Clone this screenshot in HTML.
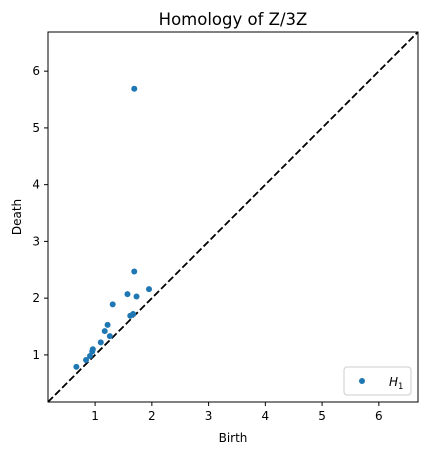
<!DOCTYPE html>
<html><head><meta charset="utf-8"><style>
body{margin:0;background:#fff;font-family:"Liberation Sans","DejaVu Sans",sans-serif;}
svg text{font-family:"DejaVu Sans","Liberation Sans",sans-serif;}
</style></head><body>
<svg id="chart" width="431" height="455" xmlns="http://www.w3.org/2000/svg">
<text x="233" y="25" font-size="16.5" text-anchor="middle" fill="#000">Homology of Z/3Z</text>
<g id="plot"></g>
<rect x="48" y="32" width="370" height="370" fill="none" stroke="#000" stroke-width="1"/>
<text x="233" y="442" font-size="12" text-anchor="middle">Birth</text>
<text x="0" y="0" font-size="12" text-anchor="middle" transform="translate(21,217) rotate(-90)">Death</text>
<g>
<rect x="344" y="367" width="67" height="28" rx="3" fill="#fff" stroke="#ccc"/>
<circle cx="362" cy="381" r="3" fill="#1f77b4"/>
<text x="389" y="386" font-size="12" font-style="italic">H<tspan font-size="8.5" dy="3" font-style="normal">1</tspan></text>
</g>
</svg>
<script>
const births=[1.69,1.69,1.57,1.73,1.95,1.31,1.62,1.67,1.22,1.17,1.26,1.10,0.96,0.95,0.91,0.84,0.67];
const deaths=[5.69,2.47,2.07,2.03,2.16,1.89,1.69,1.72,1.53,1.42,1.33,1.22,1.10,1.06,0.98,0.91,0.79];
const ticks=[1,2,3,4,5,6];
const dmin=0.17,dmax=6.69;
const x=v=>48+(v-dmin)/(dmax-dmin)*370;
const y=v=>402-(v-dmin)/(dmax-dmin)*370;
const ns="http://www.w3.org/2000/svg";
const g=document.getElementById('plot');
function mk(t,a){const e=document.createElementNS(ns,t);for(const k in a)e.setAttribute(k,a[k]);g.appendChild(e);return e;}
const diag=mk('line',{x1:x(dmin),y1:y(dmin),x2:x(dmax),y2:y(dmax),stroke:'#000','stroke-width':1.8,'stroke-dasharray':'7,3'});


ticks.forEach(t=>{
 const a=mk('line',{x1:x(t),x2:x(t),y1:402,y2:406,stroke:'#000'});
 
 
 const b=mk('text',{x:x(t),y:420,'font-size':12,'text-anchor':'middle'});b.textContent=t;
 
 
 const c=mk('line',{x1:44,x2:48,y1:y(t),y2:y(t),stroke:'#000'});
 
 
 const d=mk('text',{x:40,y:y(t)+4,'font-size':12,'text-anchor':'end'});d.textContent=t;
 
 
});
births.forEach((b,i)=>{
 const p=mk('circle',{cx:x(b),cy:y(deaths[i]),r:3,fill:'#1f77b4'});
 
 
});
</script>
</body></html>
